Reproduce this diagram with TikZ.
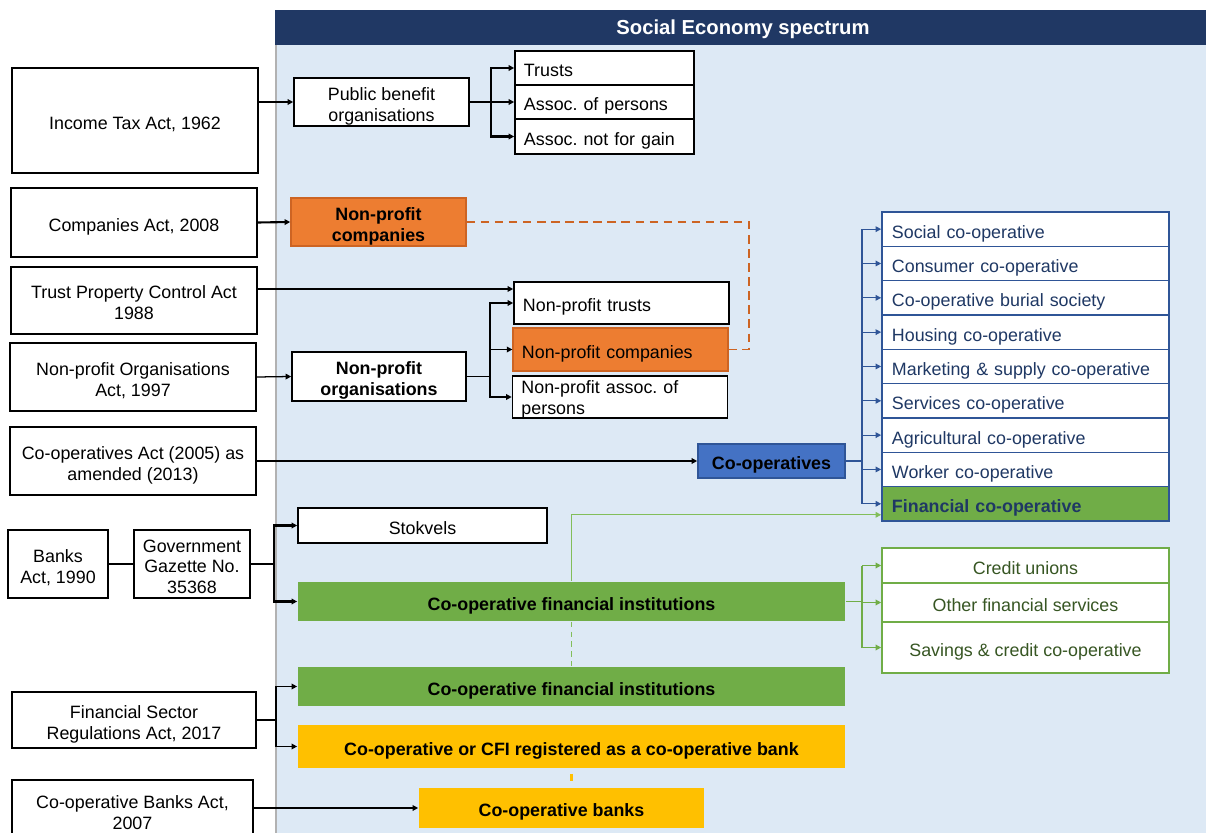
\documentclass[tikz,border=0pt]{standalone}
\usepackage{fontspec}
\setmainfont{Liberation Sans}
\usetikzlibrary{arrows.meta}
\frenchspacing

\definecolor{navy}{RGB}{32,56,100}
\definecolor{panel}{RGB}{221,233,245}
\definecolor{orng}{RGB}{237,125,49}
\definecolor{orngdark}{RGB}{205,100,35}
\definecolor{coopblue}{RGB}{68,114,196}
\definecolor{lineblue}{RGB}{47,85,151}
\definecolor{textblue}{RGB}{31,56,100}
\definecolor{cfigreen}{RGB}{112,173,71}
\definecolor{lightgreen}{RGB}{130,190,90}
\definecolor{textgreen}{RGB}{55,86,35}
\definecolor{bankyellow}{RGB}{255,192,0}

\begin{document}
\begin{tikzpicture}[x=0.025cm, y=-0.025cm, >={Triangle[length=4pt,width=4pt]}]
	\tikzset{
		block/.style = {rectangle, draw, line width=1.1pt, align=center, inner sep=0pt, text height=12.6pt, text depth=0pt, fill=white, font=\fontsize{12.7}{14.8}\selectfont},
		twoline/.style = {text height=27.4pt},
		threeline/.style = {text height=42.2pt},
		bold/.style = {font=\fontsize{12.7}{14.8}\selectfont\bfseries},
		lawbox/.style = {block, minimum width=6.15cm},
		pbranch/.style = {block, align=left, text width=4.025cm, minimum width=4.475cm, minimum height=0.85cm},
		npbranch/.style = {block, align=left, text width=4.925cm, minimum width=5.375cm, minimum height=1.05cm},
		wide/.style = {block, bold, draw=none, minimum width=13.675cm, minimum height=0.975cm},
		bluerow/.style = {block, draw=lineblue, text=textblue, align=left, text width=6.675cm, minimum width=7.175cm, minimum height=0.858cm},
		greenrow/.style = {block, draw=cfigreen, text=textgreen, minimum width=7.175cm},
		conn/.style = {line width=0.9pt},
		thickconn/.style = {line width=1.5pt}
	}
	\useasboundingbox (0,0) rectangle (1206,833);
	% panel and header
	\fill[panel] (275,45) rectangle (1206,833);
	\fill[navy] (275,10) rectangle (1206,45);
	\draw[gray!60, line width=0.8pt] (276,45) -- (276,833);
	\node[text=white, inner sep=0pt, font=\fontsize{14.4}{16}\selectfont\bfseries] (head) at (743,29.5) {Social Economy spectrum};

	% acts
	\node[lawbox, minimum height=2.625cm] (itax) at (135,120.5) {Income Tax Act, 1962};
	\node[lawbox, minimum height=1.725cm] (comp) at (134,222.5) {Companies Act, 2008};
	\node[lawbox, twoline, minimum height=1.675cm] (trust) at (134,300.5) {Trust Property Control Act\\1988};
	\node[lawbox, twoline, minimum height=1.7cm] (npoact) at (133,377) {Non-profit Organisations\\Act, 1997};
	\node[lawbox, twoline, minimum height=1.7cm] (coopact) at (133,461) {Co-operatives Act (2005) as\\amended (2013)};
	\node[block, twoline, minimum width=2.5cm, minimum height=1.7cm] (banks) at (58,564) {Banks\\Act, 1990};
	\node[block, threeline, minimum width=2.9cm, minimum height=1.7cm] (gazette) at (192,564) {Government\\Gazette No.\\35368};
	\node[lawbox, twoline, minimum width=6.1cm, minimum height=1.4cm] (fsr) at (134,720) {Financial Sector\\Regulations Act, 2017};
	\node[lawbox, twoline, minimum width=6.025cm, minimum height=1.5cm] (cbact) at (132.5,810) {Co-operative Banks Act,\\2007};

	% public benefit organisations
	\node[block, twoline, minimum width=4.375cm, minimum height=1.2cm] (pbo) at (381.5,102) {Public benefit\\organisations};
	\node[pbranch] (trusts) at (604.5,68) {Trusts};
	\node[pbranch] (assocp) at (604.5,102) {Assoc. of persons};
	\node[pbranch, minimum height=0.875cm] (assocng) at (604.5,136.5) {Assoc. not for gain};

	% non-profits
	\node[block, bold, twoline, fill=orng, draw=orngdark, minimum width=4.375cm, minimum height=1.2cm] (npc) at (378.5,222) {Non-profit\\companies};
	\node[block, bold, twoline, minimum width=4.35cm, minimum height=1.225cm] (npo) at (379,376.5) {Non-profit\\organisations};
	\node[npbranch] (nptr) at (621.5,303) {Non-profit trusts};
	\node[npbranch, fill=orng, draw=orngdark, line width=0.8pt, minimum height=1.075cm] (npcomp) at (620.5,349.5) {Non-profit companies};
	\node[npbranch, text depth=17.5pt] (npassoc) at (620,397) {Non-profit assoc. of\\persons};

	% co-operatives
	\node[block, bold, fill=coopblue, draw=lineblue, minimum width=3.675cm, minimum height=0.85cm] (coop) at (771.5,461) {Co-operatives};
	\foreach \i/\txt in {1/Social co-operative, 2/Consumer co-operative, 3/Co-operative burial society, 4/Housing co-operative, 5/Marketing \& supply co-operative, 6/Services co-operative, 7/Agricultural co-operative, 8/Worker co-operative}
		\node[bluerow] (c\i) at (1025.5,{212+34.33*(\i-0.5)}) {\txt};
	\node[bluerow, fill=cfigreen, font=\fontsize{12.7}{14.8}\selectfont\bfseries] (fin) at (1025.5,503.8) {Financial co-operative};

	% financial institutions
	\node[block, minimum width=6.225cm, minimum height=0.875cm] (stok) at (422.5,525.5) {Stokvels};
	\node[wide, fill=cfigreen] (cfia) at (571.5,601.5) {Co-operative financial institutions};
	\node[wide, fill=cfigreen] (cfib) at (571.5,686.5) {Co-operative financial institutions};
	\node[wide, fill=bankyellow, minimum height=1.075cm] (cbreg) at (571.5,746.5) {Co-operative or CFI registered as a co-operative bank};
	\node[block, bold, draw=none, fill=bankyellow, minimum width=7.125cm, minimum height=1cm] (cbanks) at (561.5,808) {Co-operative banks};
	\node[greenrow, minimum height=0.875cm] (cu) at (1025.5,565.5) {Credit unions};
	\node[greenrow, minimum height=0.975cm] (ofs) at (1025.5,602.5) {Other financial services};
	\node[greenrow, minimum height=1.275cm] (scc) at (1025.5,647.5) {Savings \& credit co-operative};

	% connectors
	\coordinate (ps) at (491,102);
	\coordinate (ns) at (490,376.5);
	\coordinate (bs) at (862,461);
	\coordinate (gs) at (862,601.5);
	\coordinate (zs) at (274,564);
	\coordinate (fs) at (276,720);
	\coordinate (dj) at (749,222);
	\coordinate (ta) at ([yshift=0.2875cm]trust.east);
	\coordinate (ga) at ([yshift=-0.275cm]fin.west);

	\draw[->, conn] (itax.east |- pbo.west) -- (pbo.west);
	\draw[conn] (pbo.east) -- (ps);
	\draw[->, thickconn] (ps |- assocng.west) -- (ps |- trusts.west) -- (trusts.west);
	\draw[->, thickconn] (ps |- trusts.west) -- (ps |- assocng.west) -- (assocng.west);
	\draw[->, conn] (ps) -- (assocp.west);

	\draw[->, thickconn] (comp.east) -- (npc.west);
	\draw[orngdark, line width=1pt, dash pattern=on 6pt off 4pt] (npc.east) -- (dj) -- (dj |- npcomp.east) -- (npcomp.east);

	\draw[->, conn] (ta) -- (ta -| nptr.west);
	\draw[->, conn] (npoact.east) -- (npo.west);
	\draw[conn] (npo.east) -- (ns);
	\draw[->, thickconn] (ns) -- (ns |- nptr.west) -- (nptr.west);
	\draw[->, conn] (ns |- npcomp.west) -- (npcomp.west);
	\draw[->, conn] (ns) -- (ns |- npassoc.west) -- (npassoc.west);

	\draw[->, conn] (coopact.east) -- (coop.west);
	\draw[lineblue, conn] (coop.east) -- (bs);
	\draw[lineblue, conn] (bs |- c1.west) -- (bs |- fin.west);
	\foreach \n in {c1,c2,c3,c4,c5,c6,c7,c8,fin}
		\draw[->, lineblue, conn] (bs |- \n.west) -- (\n.west);

	\draw[conn] (banks.east) -- (gazette.west);
	\draw[thickconn] (gazette.east) -- (zs);
	\draw[->, thickconn] (zs) -- (zs |- stok.west) -- (stok.west);
	\draw[->, thickconn] (zs) -- (zs |- cfia.west) -- (cfia.west);

	\draw[->, lightgreen, conn] (cfia.north) -- (cfia.north |- ga) -- (ga);
	\draw[lightgreen, line width=1.3pt, dash pattern=on 4pt off 3pt] (cfia.south) -- (cfib.north);
	\draw[cfigreen, line width=1.1pt] (cfia.east) -- (gs);
	\draw[cfigreen, conn] (gs |- cu.west) -- (gs |- scc.west);
	\foreach \n in {cu,ofs,scc}
		\draw[->, cfigreen, conn] (gs |- \n.west) -- (\n.west);

	\draw[conn] (fsr.east) -- (fs);
	\draw[->, conn] (fs) -- (fs |- cfib.west) -- (cfib.west);
	\draw[->, conn] (fs) -- (fs |- cbreg.west) -- (cbreg.west);
	\draw[bankyellow, line width=1.6pt, dash pattern=on 0pt off 3.6pt on 5pt off 20pt] (cbreg.south) -- (cbreg.south |- cbanks.north);
	\draw[->, conn] (cbact.east |- cbanks.west) -- (cbanks.west);
\end{tikzpicture}
\end{document}
